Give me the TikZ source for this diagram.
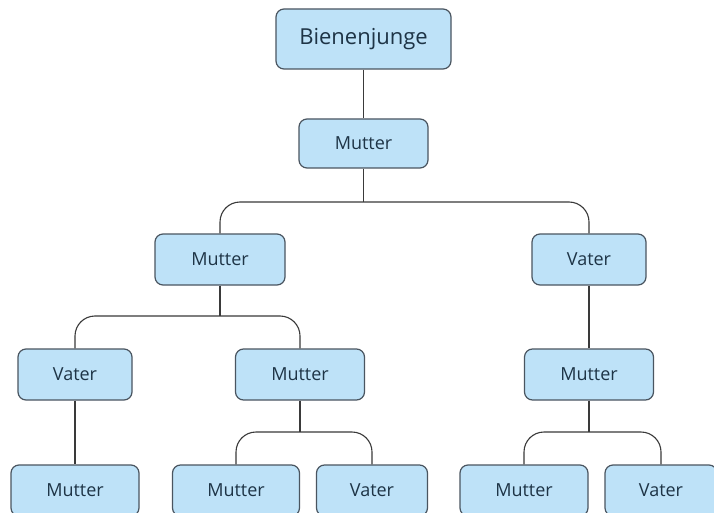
\documentclass[tikz,border=0pt]{standalone}
\usepackage{fontspec}
\setmainfont{Open Sans}
\definecolor{boxfill}{HTML}{BEE2F8}
\definecolor{boxline}{HTML}{4A5560}
\definecolor{txt}{HTML}{1E3446}
\definecolor{wire}{HTML}{3A3A3A}
\begin{document}
\begin{tikzpicture}[x=1pt,y=-1pt,
  box/.style={draw=boxline,line width=1.2pt,fill=boxfill,rounded corners=8pt,
    minimum height=51pt,text=txt,font=\fontsize{18}{20}\selectfont,inner sep=0pt},
  wires/.style={draw=wire,line width=1.1pt,rounded corners=20pt}]
\path[use as bounding box,fill=white] (0,0) rectangle (714,513);
\clip (0,0) rectangle (714,513);
% nodes
\node[box,minimum width=175pt,minimum height=60pt,font=\fontsize{22}{24}\selectfont] (b) at (363.5,39) {Bienenjunge};
\node[box,minimum width=129pt,minimum height=49pt] (m1) at (363.5,143.5) {Mutter};
\node[box,minimum width=130pt] (m2) at (220,259.5) {Mutter};
\node[box,minimum width=114pt] (v2) at (589,259.5) {Vater};
\node[box,minimum width=114pt] (v3) at (75,374.5) {Vater};
\node[box,minimum width=129pt] (m3) at (300,374.5) {Mutter};
\node[box,minimum width=129pt] (m3r) at (589,374.5) {Mutter};
\node[box,minimum width=128pt] (m4a) at (75,490.5) {Mutter};
\node[box,minimum width=127pt] (m4b) at (236,490.5) {Mutter};
\node[box,minimum width=111pt] (v4b) at (372,490.5) {Vater};
\node[box,minimum width=128pt] (m4c) at (524,490.5) {Mutter};
\node[box,minimum width=112pt] (v4c) at (661,490.5) {Vater};
% bars
\coordinate (y1) at (0,202);
\coordinate (y2) at (0,316);
\coordinate (y3) at (0,432);
% connectors
\draw[wires] (b.south) -- (m1.north);
\draw[wires] (m1.south) -- (m1.south |- y1);
\draw[wires] (m2.north) |- (m1.south |- y1) -| (v2.north);
\draw[wires] (m2.south) -- (m2.south |- y2);
\draw[wires] (v3.north) |- (m2.south |- y2) -| (m3.north);
\draw[wires] (v3.south) -- (m4a.north);
\draw[wires] (v2.south) -- (m3r.north);
\draw[wires] (m3.south) -- (m3.south |- y3);
\draw[wires] (m4b.north) |- (m3.south |- y3) -| (v4b.north);
\draw[wires] (m3r.south) -- (m3r.south |- y3);
\draw[wires] (m4c.north) |- (m3r.south |- y3) -| (v4c.north);
\end{tikzpicture}
\end{document}
